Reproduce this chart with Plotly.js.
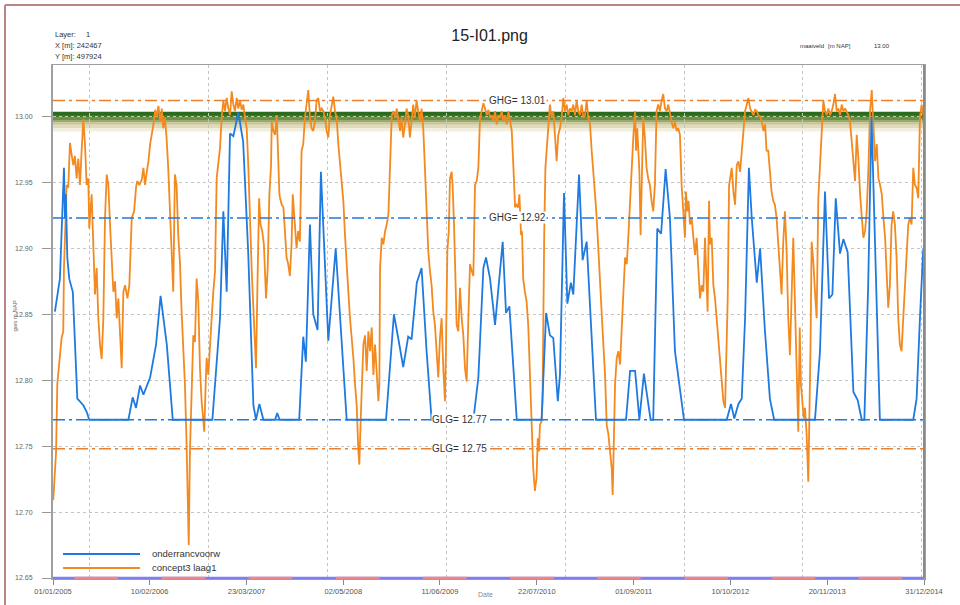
<!DOCTYPE html>
<html><head><meta charset="utf-8">
<script src="https://cdn.plot.ly/plotly-3.0.1.min.js"></script>
<style>html,body{margin:0;padding:0;background:#fff}#chart{width:960px;height:605px}</style>
</head><body><div id="chart"></div>
<script>
// ---------- DATA (days since 2005-01-01, values in m NAP) ----------
const orangeDaysA = [1,13,18,29,36,43,46,52,57,64,71,78,85,92,99,106,113,120,127,134,141,148,152,162,169,176,183,190,197,204,211,218,225,232,239,246,253,260,267,274,281,288,295,302,312,320,330,340,348,353,362,372,379,386,393,400,407,414,421,428,435,442,449,456,462,469,476,483,490,497,504,511,518,525,532,539,546,553,560,564,569,574,581,588,595,602,609,616,623,630,634,640,644,651,658,665,672,679,686,693,700,707,714,721,728,735,742,749,756,763,770,777,784,791,798,805,812,819,826,833,843,851,857,864,870,877,884,893,900,907,914];
const orangeValsA = [12.709,12.746,12.797,12.817,12.832,12.837,12.885,12.918,12.948,12.946,12.980,12.971,12.963,12.970,12.953,12.968,12.948,12.974,12.998,12.979,12.948,12.953,12.915,12.941,12.905,12.865,12.885,12.847,12.827,12.816,12.847,12.923,12.956,12.948,12.918,12.890,12.867,12.875,12.847,12.862,12.832,12.809,12.867,12.872,12.862,12.872,12.923,12.928,12.946,12.951,12.948,12.952,12.961,12.948,12.958,12.966,12.979,12.986,12.994,13.005,13.000,13.008,12.996,13.006,12.991,12.999,12.984,12.961,12.928,12.893,12.867,12.956,12.948,12.910,12.890,12.852,12.822,12.797,12.751,12.721,12.675,12.746,12.791,12.834,12.829,12.877,12.860,12.809,12.784,12.771,12.761,12.797,12.817,12.804,12.822,12.847,12.867,12.882,12.953,12.966,12.976,12.999,13.012,13.004,13.014,13.006,13.001,13.019,13.009,13.004,13.014,13.006,13.012,13.005,13.009,12.999,12.991,12.961,12.918,12.883,12.842,12.809,12.872,12.938,12.918,12.913,12.903,12.862,12.885,12.941,12.963];
const orangeDaysB = [917,924,931,938,945,949,952,959,966,972,979,986,993,1000,1005,1010,1014,1021,1028,1035,1042,1049,1056,1063,1070,1077,1084,1091,1098,1105,1112,1119,1126,1133,1140,1147,1154,1161,1168,1175,1182,1189,1196,1203,1210,1217,1224,1231,1238,1245,1252,1259,1266,1273,1280,1284,1290,1294,1301,1308,1315,1322,1329,1336,1343,1350,1357,1364,1368,1371,1378,1385,1392,1399,1406,1413,1420,1427,1434,1441,1448,1455,1461,1468,1475,1482,1489,1496,1503,1510,1517,1524,1531,1538,1545,1552,1559,1566,1573,1580,1587,1594,1601,1608,1615,1622,1629,1636,1643,1647,1653,1659,1664,1671,1675,1681,1686,1692,1699,1706,1713,1720,1727,1734,1741,1748,1755,1762,1769,1776,1783,1790,1797,1804,1811,1818,1825,1832];
const orangeValsB = [12.996,12.989,12.986,13.001,12.953,12.941,12.938,12.933,12.931,12.910,12.893,12.888,12.879,12.903,12.941,12.928,12.918,12.900,12.913,12.905,12.974,12.979,12.999,13.012,13.020,12.999,12.991,12.989,12.996,13.012,13.014,13.004,13.006,13.004,12.999,12.989,12.984,13.001,13.009,13.015,13.004,12.999,12.979,12.966,12.948,12.936,12.910,12.885,12.867,12.847,12.834,12.817,12.797,12.781,12.746,12.736,12.771,12.797,12.827,12.834,12.807,12.837,12.822,12.840,12.804,12.827,12.809,12.784,12.797,12.885,12.908,12.903,12.913,12.918,12.926,12.974,13.001,13.004,12.999,13.006,12.996,12.989,12.999,12.984,12.994,13.006,13.001,12.984,12.996,13.009,12.999,13.012,13.004,12.996,13.006,12.991,12.961,12.923,12.898,12.883,12.872,12.852,12.842,12.822,12.802,12.832,12.847,12.809,12.784,12.822,12.898,12.913,12.953,12.958,12.948,12.918,12.872,12.842,12.837,12.870,12.847,12.834,12.809,12.799,12.847,12.888,12.883,12.879,12.948,12.951,12.961,12.999,13.004,13.010,13.006,13.001,13.005,12.999];
const orangeDaysC = [1839,1846,1853,1860,1867,1874,1881,1888,1895,1902,1909,1916,1923,1930,1937,1943,1950,1955,1957,1962,1966,1971,1978,1985,1992,1999,2006,2013,2020,2027,2032,2037,2041,2048,2052,2055,2059,2064,2069,2076,2083,2090,2097,2104,2111,2118,2125,2132,2139,2146,2153,2160,2167,2174,2181,2188,2195,2202,2209,2216,2223,2230,2237,2244,2251,2258,2265,2272,2279,2286,2293,2300,2307,2314,2321,2328,2335,2342,2346,2351,2356,2363,2370,2377,2384,2391,2398,2405,2412,2419,2426,2433,2440,2444,2449,2458,2463,2467,2474,2481,2488,2495,2502,2509,2516,2523,2530,2537,2544,2551,2558,2565,2572,2579,2586,2593,2600,2607,2614,2621,2628,2635,2642,2649,2653,2659,2664,2670,2677,2684,2691,2698,2705,2712,2719,2726];
const orangeValsC = [13.001,12.996,13.004,12.994,13.001,12.999,13.004,12.996,13.001,12.994,13.004,12.996,12.989,12.961,12.931,12.933,12.931,12.941,12.928,12.910,12.913,12.877,12.867,12.860,12.842,12.809,12.771,12.733,12.716,12.726,12.756,12.746,12.766,12.769,12.784,12.847,12.910,12.961,12.974,12.994,13.009,12.999,13.004,12.986,12.966,12.986,12.991,12.999,13.014,13.004,13.009,13.001,13.006,13.004,13.009,13.001,13.012,13.004,13.001,13.009,12.999,13.001,13.012,12.999,12.994,12.974,12.953,12.941,12.923,12.898,12.867,12.847,12.827,12.804,12.766,12.759,12.746,12.733,12.713,12.746,12.797,12.817,12.822,12.812,12.847,12.867,12.893,12.888,12.910,12.936,12.968,12.986,13.004,12.974,12.991,12.958,12.910,12.948,12.999,12.984,12.961,12.953,12.948,12.936,12.928,12.948,13.004,13.009,13.004,13.012,13.017,13.006,13.004,13.009,13.001,12.996,12.991,12.996,12.989,12.991,12.986,12.948,12.928,12.908,12.943,12.928,12.936,12.918,12.923,12.905,12.895,12.908,12.885,12.862,12.872,12.867];
const orangeDaysD = [2733,2740,2744,2750,2754,2761,2768,2775,2782,2789,2796,2803,2810,2817,2824,2828,2834,2839,2845,2852,2859,2866,2873,2880,2887,2894,2901,2908,2915,2922,2929,2936,2943,2950,2957,2964,2971,2978,2985,2991,2998,3005,3012,3019,3026,3033,3040,3047,3054,3061,3068,3075,3082,3089,3096,3103,3107,3113,3117,3124,3130,3135,3141,3147,3152,3159,3166,3170,3175,3180,3187,3194,3201,3208,3215,3222,3229,3236,3243,3250,3257,3264,3271,3278,3285,3292,3299,3306,3313,3320,3327,3334,3341,3348,3355,3362,3369,3376,3383,3390,3397,3404,3411,3418,3425,3432,3439,3446,3453,3460,3467,3474,3481,3488,3494,3501,3508,3515,3522,3529,3536,3543,3550,3557,3564,3571,3578,3585,3592,3599,3606,3613,3620,3627,3634,3641,3648];
const orangeValsD = [12.908,12.877,12.852,12.936,12.903,12.908,12.872,12.862,12.847,12.827,12.817,12.797,12.784,12.779,12.822,12.860,12.948,12.953,12.961,12.943,12.933,12.963,12.966,12.958,12.974,12.986,13.004,13.009,13.014,13.006,13.004,13.001,13.005,13.004,13.001,13.000,12.996,12.989,12.994,12.974,12.974,12.956,12.943,12.936,12.933,12.923,12.905,12.883,12.865,12.905,12.928,12.898,12.847,12.819,12.872,12.908,12.880,12.842,12.817,12.761,12.840,12.797,12.784,12.771,12.779,12.759,12.723,12.759,12.822,12.905,12.890,12.867,12.847,12.938,12.961,12.994,13.012,13.004,13.001,13.006,13.001,13.004,13.009,13.017,13.004,13.006,13.001,13.009,13.004,13.006,13.004,13.001,12.996,12.981,12.961,12.951,12.986,12.968,12.941,12.923,12.908,12.913,12.928,12.961,13.004,13.020,12.994,12.966,12.979,12.953,12.948,12.941,12.923,12.908,12.883,12.855,12.872,12.918,12.928,12.918,12.893,12.847,12.827,12.822,12.847,12.872,12.898,12.918,12.923,12.918,12.961,12.948,12.946,12.938,12.999,13.009,13.001];

const blueDays = [8,29,46,50,54,60,68,83,102,127,141,152,316,334,348,365,379,407,432,451,477,502,668,700,714,728,742,756,777,797,818,840,851,865,882,931,940,950,1032,1049,1060,1077,1091,1109,1123,1140,1154,1185,1203,1231,1396,1429,1447,1468,1489,1503,1525,1545,1566,1587,1762,1783,1804,1815,1832,1853,1885,1899,1913,1944,2048,2067,2083,2097,2116,2125,2142,2156,2171,2181,2205,2220,2237,2276,2402,2419,2440,2458,2477,2505,2516,2533,2549,2568,2586,2607,2645,2824,2842,2856,2873,2887,2901,2917,2929,2950,2964,2984,3005,3023,3194,3215,3236,3253,3267,3281,3299,3313,3331,3355,3373,3390,3401,3417,3431,3448,3466,3606,3620,3634,3648];
const blueVals = [12.852,12.877,12.961,12.923,12.941,12.893,12.877,12.867,12.786,12.781,12.776,12.770,12.770,12.787,12.779,12.796,12.789,12.802,12.827,12.864,12.827,12.770,12.770,12.847,12.928,12.867,12.987,12.985,13.003,12.981,12.898,12.781,12.770,12.782,12.770,12.770,12.775,12.770,12.770,12.833,12.814,12.918,12.850,12.838,12.958,12.883,12.830,12.900,12.846,12.770,12.770,12.850,12.832,12.810,12.833,12.831,12.874,12.885,12.822,12.770,12.770,12.802,12.885,12.893,12.877,12.842,12.905,12.851,12.856,12.770,12.770,12.851,12.834,12.832,12.784,12.804,12.942,12.858,12.874,12.865,12.956,12.891,12.905,12.770,12.770,12.807,12.807,12.770,12.805,12.770,12.770,12.915,12.911,12.960,12.923,12.822,12.770,12.770,12.782,12.771,12.782,12.786,12.847,12.961,12.923,12.874,12.900,12.838,12.786,12.770,12.770,12.822,12.943,12.862,12.865,12.938,12.896,12.907,12.897,12.791,12.785,12.770,12.770,12.872,13.000,12.897,12.770,12.770,12.786,12.847,12.900];

const seriesNames = ['onderrancvoorw', 'concept3 laag1'];
const refLabels = ['GHG= 13.01', 'GHG= 12.92', 'GLG= 12.77', 'GLG= 12.75'];
const refLevels = [13.012, 12.923, 12.770, 12.748];
const refLabelDates = ['2010-04-30', '2010-04-30', '2009-09-03', '2009-09-03'];
const maaiveld = 13.00;

const xTickDates = ['2005-01-01','2006-02-10','2007-03-23','2008-05-02','2009-06-11','2010-07-22','2011-09-01','2012-10-10','2013-11-20','2014-12-31'];
const xTickLabels = ['01/01/2005','10/02/2006','23/03/2007','02/05/2008','11/06/2009','22/07/2010','01/09/2011','10/10/2012','20/11/2013','31/12/2014'];
const yTickVals = [12.65,12.70,12.75,12.80,12.85,12.90,12.95,13.00];
const summerStarts = ['2005-04-01','2006-04-01','2007-04-01','2008-04-01','2009-04-01','2010-04-01','2011-04-01','2012-04-01','2013-04-01','2014-04-01'];
const summerEnds   = ['2005-10-01','2006-10-01','2007-10-01','2008-10-01','2009-10-01','2010-10-01','2011-10-01','2012-10-01','2013-10-01','2014-10-01'];

// ---------- BUILD ----------
const DAY = 86400000;
function toDate(d){ return new Date(Date.UTC(2005,0,1) + d*DAY).toISOString().slice(0,10); }
const xStart = '2005-01-01', xEnd = '2014-12-31';

const orangeDays = orangeDaysA.concat(orangeDaysB, orangeDaysC, orangeDaysD);
const orangeVals = orangeValsA.concat(orangeValsB, orangeValsC, orangeValsD);

const ORANGE = '#F38A1F', BLUE = '#1F7AE0';
const refColors = ['#EE7F2D', '#1F7AE0', '#1F7AE0', '#EE7F2D'];
const SANS = 'Liberation Sans, Arial, sans-serif';

const traces = [];
traces.push({x: orangeDays.map(toDate), y: orangeVals, mode:'lines', name: seriesNames[1],
  line:{color:ORANGE, width:1.8}, hoverinfo:'skip'});
traces.push({x: blueDays.map(toDate), y: blueVals, mode:'lines', name: seriesNames[0],
  line:{color:BLUE, width:1.8}, hoverinfo:'skip'});
refLevels.forEach((lv,i)=>{
  traces.push({x:[xStart,xEnd], y:[lv,lv], mode:'lines', line:{color:refColors[i], width:1.5, dash:'12px,4px,3px,4px'}, hoverinfo:'skip'});
});

const shapes = [];
// maaiveld band (green gradient)
const bandSteps = [
  [13.0036, 13.0010, '#2c6a1c'],
  [13.0010, 12.9990, '#3d7a28'],
  [12.9990, 12.9972, '#6a9144'],
  [12.9972, 12.9954, '#9ca96a'],
  [12.9954, 12.9936, '#c6c395'],
  [12.9936, 12.9912, '#e1dbbb'],
  [12.9912, 12.9885, '#f3efdf']
];
bandSteps.forEach(b=>{
  shapes.push({type:'rect', xref:'paper', yref:'y', x0:0, x1:1, y0:b[1], y1:b[0], fillcolor:b[2], line:{width:0}, layer:'below'});
});
// season indicator on the bottom axis
shapes.push({type:'line', xref:'x', yref:'paper', x0:xStart, x1:xEnd, y0:0, y1:0, line:{color:'#7f7ff0', width:2.5}, layer:'above'});
summerStarts.forEach((s,i)=>{
  shapes.push({type:'line', xref:'x', yref:'paper', x0:s, x1:summerEnds[i], y0:0, y1:0, line:{color:'#f08686', width:2.5}, layer:'above'});
});
// right frame edge
shapes.push({type:'line', xref:'paper', yref:'paper', x0:1, x1:1, y0:0, y1:1, line:{color:'#8a8a8a', width:2}, layer:'above'});
// outer picture frame
shapes.push({type:'line', xref:'paper', yref:'paper', x0:-0.0551, x1:1.05, y0:1.117, y1:1.117, line:{color:'#b98585', width:2}, layer:'above'});
shapes.push({type:'line', xref:'paper', yref:'paper', x0:-0.0551, x1:-0.0551, y0:1.117, y1:-0.06, line:{color:'#b98585', width:2}, layer:'above'});
// manual legend lines
const legendColors = [BLUE, ORANGE];
const legendY = [0.0468, 0.0195];
legendColors.forEach((c,i)=>{
  shapes.push({type:'line', xref:'paper', yref:'paper', x0:0.0115, x1:0.0999, y0:legendY[i], y1:legendY[i], line:{color:c, width:2}, layer:'above'});
});

const annotations = [];
refLabels.forEach((t,i)=>{
  annotations.push({x:refLabelDates[i], y:refLevels[i], xref:'x', yref:'y', text:t, showarrow:false,
    bgcolor:'#ffffff', borderpad:0, font:{family:SANS, size:10, color:'#333'}, xanchor:'center', yanchor:'middle'});
});
seriesNames.forEach((n,i)=>{
  annotations.push({x:0.111, y:legendY[i], xref:'paper', yref:'paper', text:n, showarrow:false,
    xanchor:'left', yanchor:'middle', font:{family:SANS, size:9.5, color:'#333'}});
});
const hdr = [['Layer:',0,1.0604,7.5],['1',0.0356,1.0604,7.5],['X [m]: 242467',0,1.0376,7.5],['Y [m]: 497924',0,1.0156,7.5],
             ['maaiveld',0.8553,1.037,6],['[m NAP]',0.8875,1.037,6],[maaiveld.toFixed(2),0.9403,1.037,6]];
hdr.forEach(h=>{
  annotations.push({x:h[1], y:h[2], xref:'paper', yref:'paper', text:h[0], showarrow:false,
    xanchor:'left', yanchor:'middle', font:{family:SANS, size:h[3], color:'#333'}});
});
annotations.push({x:-0.0488, y:0.5107, xref:'paper', yref:'paper', text:'gws m NAP', textangle:-90, showarrow:false,
  font:{family:SANS, size:6, color:'#666'}});
annotations.push({x:0.497, y:-0.0429, xref:'paper', yref:'paper', text:'Date', showarrow:false,
  font:{family:SANS, size:7, color:'#888'}});

const layout = {
  width:960, height:605,
  margin:{l:53, r:36, t:65, b:27, pad:0},
  paper_bgcolor:'#fff', plot_bgcolor:'#fff',
  showlegend:false,
  font:{family:SANS, size:9, color:'#555'},
  title:{text:'15-I01.png', x:0.51, xanchor:'center', y:0.942, yanchor:'middle', yref:'container',
         font:{family:SANS, size:16, color:'#222'}},
  xaxis:{type:'date', range:[xStart, xEnd], tickmode:'array', tickvals:xTickDates, ticktext:xTickLabels,
    ticks:'outside', ticklen:5, tickcolor:'#888', tickfont:{family:SANS, size:7.5, color:'#555'},
    showgrid:false, zeroline:false, showline:true, linecolor:'#a0a0a0', linewidth:1.5, mirror:true,
    minor:{tickmode:'linear', tick0:'2005-06-05', dtick:498*DAY, showgrid:true, gridcolor:'#c4c4c4', griddash:'dot', gridwidth:1, ticks:''}},
  yaxis:{range:[12.65, 13.039], tickmode:'array', tickvals:yTickVals, ticktext:yTickVals.map(v=>v.toFixed(2)),
    ticks:'outside', ticklen:9, tickcolor:'#999', tickfont:{family:SANS, size:7, color:'#666'},
    ticklabelstandoff:8,
    showgrid:true, gridcolor:'#c4c4c4', griddash:'dot', gridwidth:1, zeroline:false,
    showline:true, linecolor:'#a0a0a0', linewidth:2, mirror:true},
  shapes:shapes,
  annotations:annotations
};

Plotly.newPlot('chart', traces, layout, {staticPlot:true, displayModeBar:false});
</script>
</body></html>
